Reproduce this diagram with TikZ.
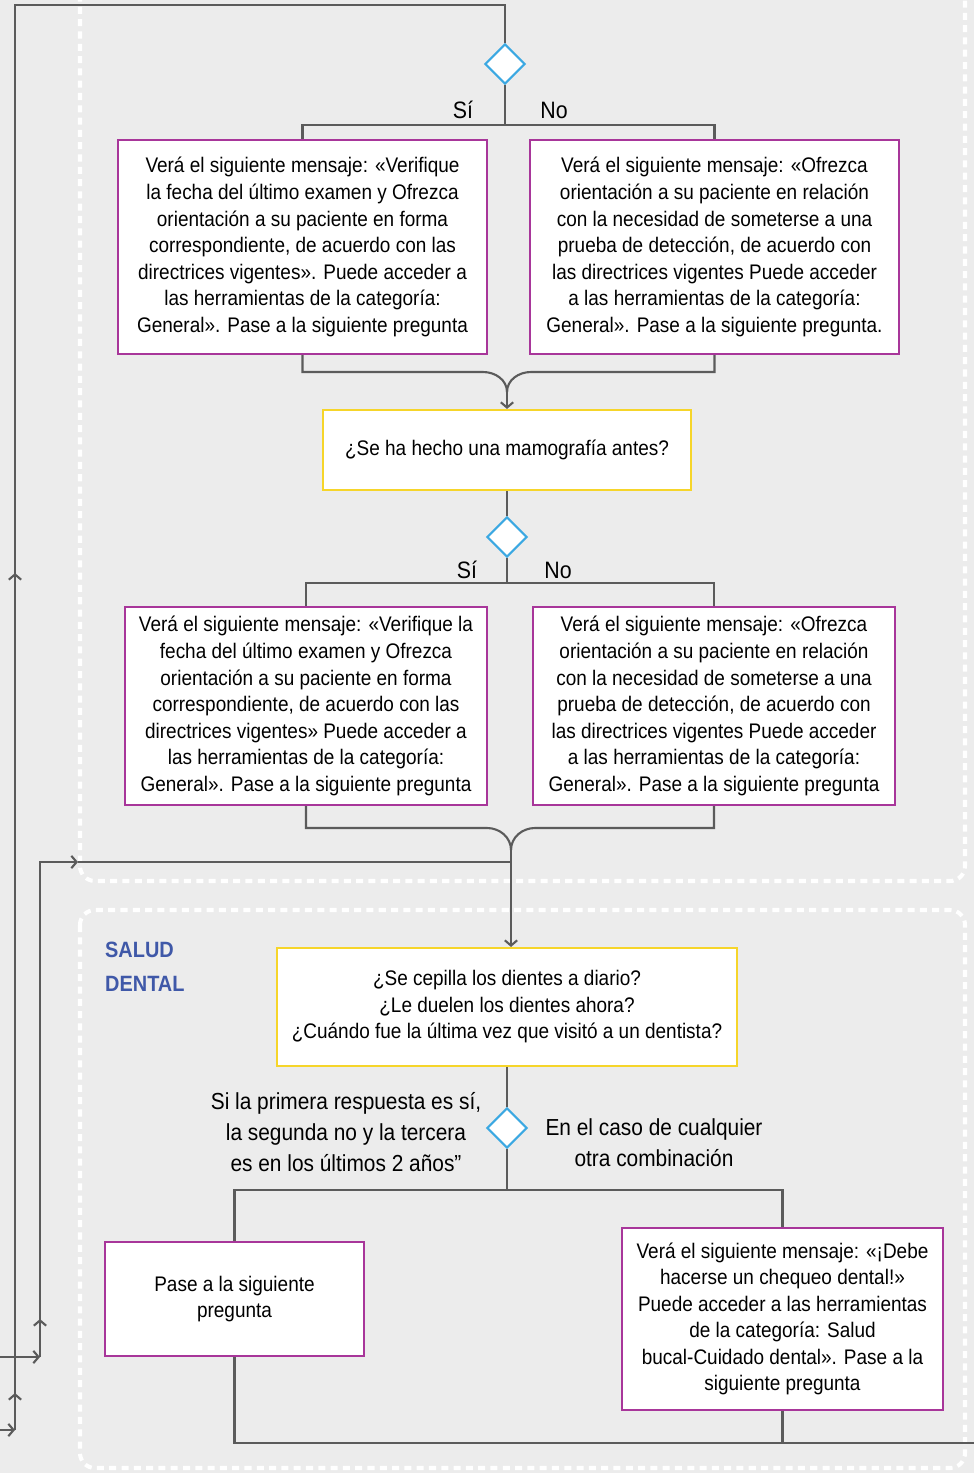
\documentclass[tikz,border=0pt]{standalone}
\usepackage{fontspec}
\setmainfont{Liberation Sans}[FakeStretch=0.9]
\usetikzlibrary{arrows.meta,shapes.geometric}

\definecolor{bggray}{HTML}{ECECEC}
\definecolor{linegray}{HTML}{5B5B5B}
\definecolor{msgpink}{HTML}{A8369A}
\definecolor{askyellow}{HTML}{F6D52A}
\definecolor{choiceblue}{HTML}{3BA8E2}
\definecolor{titleblue}{HTML}{3F58A8}

\tikzset{
  flow/.style={draw=linegray, line width=1.2pt},
  arr/.style={flow, -{Straight Barb[length=3pt,width=7pt,line width=1.2pt]}},
  msgbox/.style={draw=msgpink, fill=white, line width=1.2pt, align=center, inner sep=0pt,
    font=\fontsize{12}{15.1}\selectfont},
  askbox/.style={draw=askyellow, fill=white, line width=1.2pt, align=center, inner sep=0pt,
    font=\fontsize{12}{15.1}\selectfont},
  choice/.style={diamond, draw=choiceblue, fill=white, line width=1.2pt, inner sep=0pt,
    minimum width=0.8cm, minimum height=0.8cm},
  answer/.style={font=\fontsize{13.5}{16}\selectfont},
  sidenote/.style={align=center, font=\fontsize{13.2}{17.6}\selectfont},
  region/.style={draw=white, line width=2.3pt, dash pattern=on 4pt off 3pt, rounded corners=0.3cm}
}

\begin{document}
\begin{tikzpicture}[x=0.02cm, y=-0.02cm]
    \fill[bggray] (0,0) rectangle (974,1473);
    \useasboundingbox (0,0) rectangle (974,1473);
    % dashed regions
    \draw[region] (80,-30) -- (80,881) -- (965,881) -- (965,-30);
    \draw[region] (80,910) rectangle (965,1468);
    \node[anchor=west, align=left, text=titleblue, font=\bfseries\fontsize{12.6}{19.3}\selectfont] (title) at (99,967) {SALUD\\DENTAL};

    % first question
    \node[choice] (d1) at (505,64) {};
    \node[answer] (yes1) at (463,110) {Sí};
    \node[answer] (no1) at (554,110) {No};
    \coordinate (split1) at (505,125);
    \node[msgbox, minimum width=7.38cm, minimum height=4.28cm] (a1) at (302.5,247)
      {Verá el siguiente mensaje: «Verifique\\la fecha del último examen y Ofrezca\\orientación a su paciente en forma\\correspondiente, de acuerdo con las\\directrices vigentes». Puede acceder a\\las herramientas de la categoría:\\General». Pase a la siguiente pregunta};
    \node[msgbox, minimum width=7.38cm, minimum height=4.28cm] (a2) at (714.5,247)
      {Verá el siguiente mensaje: «Ofrezca\\orientación a su paciente en relación\\con la necesidad de someterse a una\\prueba de detección, de acuerdo con\\las directrices vigentes Puede acceder\\a las herramientas de la categoría:\\General». Pase a la siguiente pregunta.};
    \node[askbox, minimum width=7.36cm, minimum height=1.6cm] (q1) at (507,450) {¿Se ha hecho una mamografía antes?};
    \coordinate (join1) at (507,392);

    % second question
    \node[choice] (d2) at (507,537) {};
    \node[answer] (yes2) at (467,570) {Sí};
    \node[answer] (no2) at (558,570) {No};
    \coordinate (split2) at (507,583);
    \node[msgbox, minimum width=7.24cm, minimum height=3.96cm] (b1) at (306,706)
      {Verá el siguiente mensaje: «Verifique la\\fecha del último examen y Ofrezca\\orientación a su paciente en forma\\correspondiente, de acuerdo con las\\directrices vigentes» Puede acceder a\\las herramientas de la categoría:\\General». Pase a la siguiente pregunta};
    \node[msgbox, minimum width=7.24cm, minimum height=3.96cm] (b2) at (714,706)
      {Verá el siguiente mensaje: «Ofrezca\\orientación a su paciente en relación\\con la necesidad de someterse a una\\prueba de detección, de acuerdo con\\las directrices vigentes Puede acceder\\a las herramientas de la categoría:\\General». Pase a la siguiente pregunta};
    \coordinate (join2) at (511,850);

    % dental questions
    \node[askbox, minimum width=9.2cm, minimum height=2.36cm] (q2) at (507,1007)
      {¿Se cepilla los dientes a diario?\\¿Le duelen los dientes ahora?\\¿Cuándo fue la última vez que visitó a un dentista?};
    \node[choice] (d3) at (507,1128) {};
    \node[sidenote] (yes3) at (346,1132) {Si la primera respuesta es sí,\\la segunda no y la tercera\\es en los últimos 2 años”};
    \node[sidenote] (no3) at (654,1143) {En el caso de cualquier\\otra combinación};
    \coordinate (split3) at (507,1190);
    \node[msgbox, minimum width=5.18cm, minimum height=2.28cm] (c1) at (234.5,1299) {Pase a la siguiente\\pregunta};
    \node[msgbox, minimum width=6.42cm, minimum height=3.64cm] (c2) at (782.5,1319)
      {Verá el siguiente mensaje: «¡Debe\\hacerse un chequeo dental!»\\Puede acceder a las herramientas\\de la categoría: Salud\\bucal-Cuidado dental». Pase a la\\siguiente pregunta};
    \coordinate (exit) at (974,1443);

    % connectors
    \draw[flow] (d1.south) -- (split1);
    \draw[flow] (a1.north) -- (a1.north |- split1) -- (a2.north |- split1) -- (a2.north);
    \draw[flow] (a1.south) |- (483,372) to[out=0,in=90] (join1);
    \draw[flow] (a2.south) |- (531,372) to[out=180,in=90] (join1);
    \draw[arr] (join1) -- (q1.north);
    \draw[flow] (q1.south) -- (d2.north);
    \draw[flow] (d2.south) -- (split2);
    \draw[flow] (b1.north) -- (b1.north |- split2) -- (b2.north |- split2) -- (b2.north);
    \draw[flow] (b1.south) |- (487,828) to[out=0,in=90] (join2);
    \draw[flow] (b2.south) |- (535,828) to[out=180,in=90] (join2);
    \draw[arr] (join2) -- (join2 |- q2.north);
    \draw[flow] (q2.south) -- (d3.north);
    \draw[flow] (d3.south) -- (split3);
    \draw[flow] (c1.north) -- (c1.north |- split3) -- (c2.north |- split3) -- (c2.north);
    \draw[flow] (c1.south) -- (c1.south |- exit) -- (exit);
    \draw[flow] (c2.south) -- (c2.south |- exit);

    % lines coming in from the left
    \draw[arr] (0,1357) -- (40,1357);
    \draw[arr] (40,1357) -- (40,1319);
    \draw[arr] (40,1320) -- (40,862) -- (78,862);
    \draw[flow] (78,862) -- (join2 |- 78,862);
    \draw[arr] (0,1430) -- (15,1430);
    \draw[arr] (15,1430) -- (15,1393);
    \draw[arr] (15,1394) -- (15,573);
    \draw[flow] (15,574) -- (15,5) -- (505,5) -- (d1.north);
  \end{tikzpicture}
\end{document}
